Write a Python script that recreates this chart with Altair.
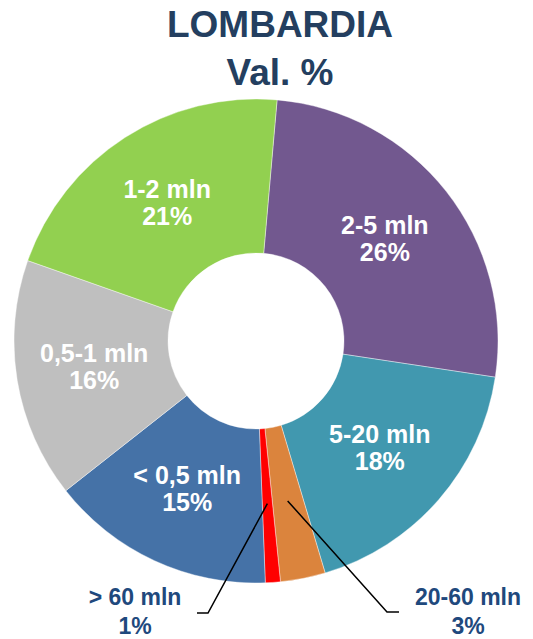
import math

import altair as alt
import pandas as pd

# --- data -----------------------------------------------------------------
categories = ["2-5 mln", "5-20 mln", "20-60 mln", "> 60 mln", "< 0,5 mln", "0,5-1 mln", "1-2 mln"]
shares = [26, 18, 3, 1, 15, 16, 21]
colors = ["#72588F", "#4198AF", "#DB843D", "#FF0000", "#4572A7", "#BFBFBF", "#92D050"]
outside = ["20-60 mln", "> 60 mln"]  # slices too thin for an inner label

# --- layout ---------------------------------------------------------------
W, H = 533, 639
CX, CY = 256, 341
R_OUT, R_IN, R_LABEL, R_LEADER = 242, 88, 164, 163
START_DEG = 5.0
START = math.radians(START_DEG)
TITLE_COLOR = "#243F60"
LABEL_COLOR = "#1F497D"
FONT = "Liberation Sans"
INNER_SIZE, INNER_LH = 25, 27

# leader elbows / ends and external label anchors (pixels)
leader_layout = {
    "> 60 mln": {"elbow": (208, 613), "end": (197, 613), "label": (135, 605)},
    "20-60 mln": {"elbow": (387, 612), "end": (399, 612), "label": (468, 605)},
}

slices = pd.DataFrame({"categoria": categories, "quota": shares, "ordine": range(len(categories))})
slices["etichetta"] = ["" if c in outside else f"{c}\n{v}%" for c, v in zip(categories, shares)]

# leader lines start inside the slice, at its mid angle
total = sum(shares)
cum = 0.0
mid_deg = {}
for c, v in zip(categories, shares):
    mid_deg[c] = START_DEG + (cum + v / 2) / total * 360
    cum += v

line_rows, ext_rows = [], []
for c in outside:
    a = math.radians(mid_deg[c])
    sx, sy = CX + R_LEADER * math.sin(a), CY - R_LEADER * math.cos(a)
    pts = [(sx, sy), leader_layout[c]["elbow"], leader_layout[c]["end"]]
    for i, (px, py) in enumerate(pts):
        line_rows.append({"categoria": c, "passo": i, "px": px, "py": py})
    lx, ly = leader_layout[c]["label"]
    v = shares[categories.index(c)]
    ext_rows.append({"categoria": c, "px": lx, "py": ly, "testo": f"{c}\n{v}%"})
leaders = pd.DataFrame(line_rows)
ext_labels = pd.DataFrame(ext_rows)

# --- encodings ------------------------------------------------------------
theta = alt.Theta("quota:Q", stack=True, scale=alt.Scale(range=[START, START + 2 * math.pi]))
color = alt.Color("categoria:N", scale=alt.Scale(domain=categories, range=colors), legend=None)
order = alt.Order("ordine:Q")
px = alt.X("px:Q", scale=alt.Scale(domain=[0, W], range=[0, W]), axis=None)
py = alt.Y("py:Q", scale=alt.Scale(domain=[0, H], range=[0, H]), axis=None)

arcs = alt.Chart(slices).mark_arc(
    outerRadius=R_OUT, innerRadius=R_IN, stroke="white", strokeWidth=0.4
).encode(theta=theta, color=color, order=order, x=alt.value(CX), y=alt.value(CY))

# two-line labels: shift up half a line so the block is centred on the slice
inner_text = alt.Chart(slices).mark_text(
    radius=R_LABEL, font=FONT, fontSize=INNER_SIZE, fontWeight="bold", color="white",
    lineBreak="\n", lineHeight=INNER_LH, align="center", baseline="middle",
    dy=-INNER_LH / 2,
).encode(theta=theta, text="etichetta:N", order=order, x=alt.value(CX), y=alt.value(CY))

lines = alt.Chart(leaders).mark_line(color="black", strokeWidth=1.5).encode(
    x=px, y=py, detail="categoria:N", order=alt.Order("passo:Q")
)

outer_text = alt.Chart(ext_labels).mark_text(
    font=FONT, fontSize=23, fontWeight="bold", color=LABEL_COLOR,
    lineBreak="\n", lineHeight=29, align="center", baseline="alphabetic",
).encode(x=px, y=py, text="testo:N")

title = alt.Chart(pd.DataFrame({"t": ["LOMBARDIA\nVal. %"]})).mark_text(
    font=FONT, fontSize=37, fontWeight="bold", color=TITLE_COLOR,
    lineBreak="\n", lineHeight=48, align="center", baseline="alphabetic",
).encode(text="t:N", x=alt.value(280), y=alt.value(37))

chart = (
    alt.layer(arcs, inner_text, lines, outer_text, title)
    .properties(width=W, height=H, padding=0, autosize="none", background="white")
    .configure_view(stroke=None)
)

chart.save("out.html", embed_options={"renderer": "svg", "actions": False})
